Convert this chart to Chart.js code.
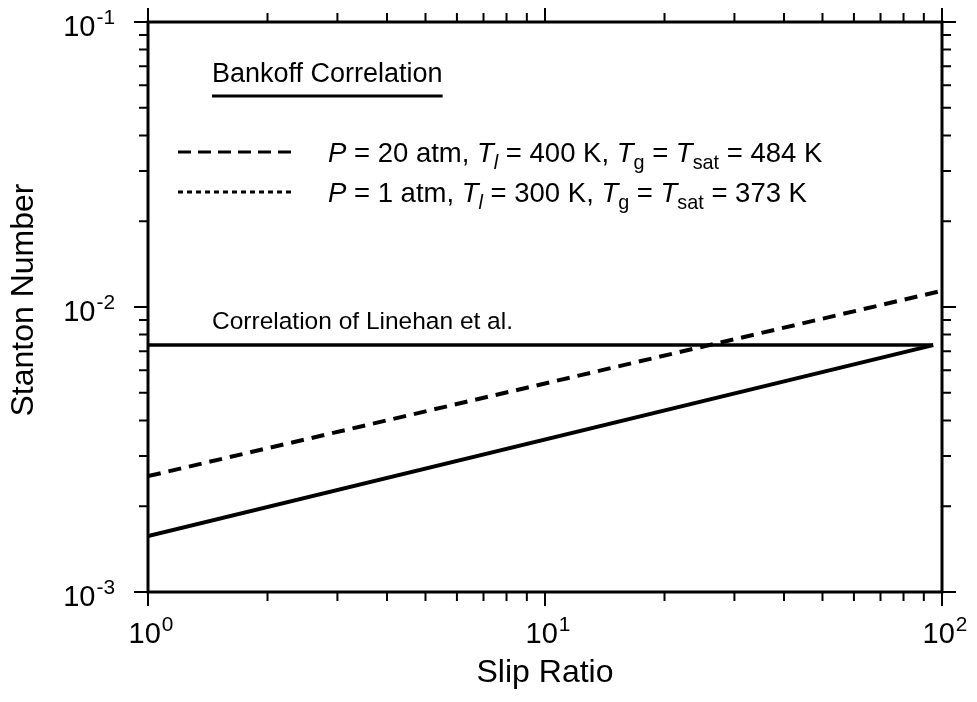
<!DOCTYPE html>
<html>
<head>
<meta charset="utf-8">
<script src="https://cdn.jsdelivr.net/npm/chart.js@4.4.1/dist/chart.umd.min.js"></script>
<style>
  html, body { margin: 0; padding: 0; background: #fff; }
</style>
</head>
<body>
<canvas id="stantonChart" width="977" height="702"></canvas>
<script>
// data block
const linehanX = [1, 95];
const linehanY = [7.35e-3, 7.35e-3];
const atm1X = [1, 95];
const atm1Y = [1.57e-3, 7.35e-3];
const atm20X = [1, 100];
const atm20Y = [2.55e-3, 1.14e-2];

const xTickValues = [1, 10, 100];
const xTickExp = ['0', '1', '2'];
const yTickValues = [1e-3, 1e-2, 1e-1];
const yTickExp = ['-3', '-2', '-1'];

const xTitle = 'Slip Ratio';
const yTitle = 'Stanton Number';
const linehanLabel = 'Correlation of Linehan et al.';
const legendTitle = 'Bankoff Correlation';
const legend20 = [
	{ t: 'P', it: true }, { t: ' = 20 atm, ' },
	{ t: 'T', it: true }, { t: 'l', it: true, sub: true }, { t: ' = 400 K, ' },
	{ t: 'T', it: true }, { t: 'g', sub: true }, { t: ' = ' },
	{ t: 'T', it: true }, { t: 'sat', sub: true }, { t: ' = 484 K' },
];
const legend1 = [
	{ t: 'P', it: true }, { t: ' = 1 atm, ' },
	{ t: 'T', it: true }, { t: 'l', it: true, sub: true }, { t: ' = 300 K, ' },
	{ t: 'T', it: true }, { t: 'g', sub: true }, { t: ' = ' },
	{ t: 'T', it: true }, { t: 'sat', sub: true }, { t: ' = 373 K' },
];

const FONT = '"Liberation Sans", Arial, Helvetica, sans-serif';

function toPoints(xs, ys) {
	return xs.map((x, i) => ({ x: x, y: ys[i] }));
}

function font(size, italic) {
	return (italic ? 'italic ' : '') + size + 'px ' + FONT;
}

// rich text: italic / subscript segments, left aligned on baseline
function drawRich(ctx, segs, x, y, size) {
	let cx = x;
	segs.forEach((s) => {
		const sz = s.sub ? size * 0.72 : size;
		ctx.font = font(sz, s.it);
		const dy = s.sub ? size * 0.25 : 0;
		ctx.fillText(s.t, cx, y + dy);
		cx += ctx.measureText(s.t).width;
	});
}

// "10" with a superscript exponent
function powerWidth(ctx, exp, size) {
	ctx.font = font(size);
	const w1 = ctx.measureText('10').width;
	ctx.font = font(size * 0.72);
	return w1 + ctx.measureText(exp).width + 1;
}
function drawPower(ctx, exp, x, y, size) {
	ctx.font = font(size);
	ctx.fillText('10', x, y);
	const w1 = ctx.measureText('10').width;
	ctx.font = font(size * 0.72);
	ctx.fillText(exp, x + w1 + 1, y - size * 0.42);
}

function minorValues(min, max) {
	const vals = [];
	for (let d = min; d < max * 0.999; d *= 10) {
		for (let k = 1; k <= 10; k++) vals.push({ v: d * k, major: k === 1 || k === 10 });
	}
	return vals;
}

const framePlugin = {
	id: 'framePlugin',
	afterDatasetsDraw(chart) {
		const ctx = chart.ctx;
		const xs = chart.scales.x;
		const ys = chart.scales.y;
		const a = chart.chartArea;
		ctx.save();
		ctx.strokeStyle = '#000';
		ctx.fillStyle = '#000';
		ctx.lineCap = 'butt';

		// frame
		ctx.lineWidth = 3;
		ctx.strokeRect(a.left, a.top, a.right - a.left, a.bottom - a.top);

		// ticks, outward on all four sides
		ctx.lineWidth = 2;
		ctx.beginPath();
		minorValues(1, 100).forEach((t) => {
			const px = xs.getPixelForValue(t.v);
			const len = t.major ? 14 : 9;
			ctx.moveTo(px, a.bottom);
			ctx.lineTo(px, a.bottom + len);
			ctx.moveTo(px, a.top);
			ctx.lineTo(px, a.top - len);
		});
		minorValues(1e-3, 1e-1).forEach((t) => {
			const py = ys.getPixelForValue(t.v);
			const len = t.major ? 14 : 9;
			ctx.moveTo(a.left, py);
			ctx.lineTo(a.left - len, py);
			ctx.moveTo(a.right, py);
			ctx.lineTo(a.right + len, py);
		});
		ctx.stroke();

		// tick labels
		ctx.textAlign = 'left';
		ctx.textBaseline = 'alphabetic';
		const tsz = 29;
		xTickValues.forEach((v, i) => {
			const px = xs.getPixelForValue(v);
			const w = powerWidth(ctx, xTickExp[i], tsz);
			drawPower(ctx, xTickExp[i], px - w / 2 + 3, a.bottom + 51, tsz);
		});
		yTickValues.forEach((v, i) => {
			const py = ys.getPixelForValue(v);
			const w = powerWidth(ctx, yTickExp[i], tsz);
			drawPower(ctx, yTickExp[i], a.left - 33 - w, py + 14, tsz);
		});

		// axis titles
		ctx.font = font(32);
		ctx.textAlign = 'center';
		ctx.fillText(xTitle, (a.left + a.right) / 2, a.bottom + 90);
		ctx.save();
		ctx.translate(33, 300);
		ctx.rotate(-Math.PI / 2);
		ctx.fillText(yTitle, 0, 0);
		ctx.restore();

		// label of the Linehan line
		ctx.textAlign = 'left';
		ctx.font = font(24.5);
		ctx.fillText(linehanLabel, 212, ys.getPixelForValue(linehanY[0]) - 16);

		// legend
		ctx.font = font(27);
		ctx.fillText(legendTitle, 212, 82);
		const tw = ctx.measureText(legendTitle).width;
		ctx.lineWidth = 3;
		ctx.beginPath();
		ctx.moveTo(212, 96);
		ctx.lineTo(212 + tw, 96);
		ctx.stroke();

		ctx.lineWidth = 3;
		ctx.setLineDash([13, 7]);
		ctx.beginPath();
		ctx.moveTo(178, 152);
		ctx.lineTo(295, 152);
		ctx.stroke();
		ctx.setLineDash([5, 4]);
		ctx.beginPath();
		ctx.moveTo(178, 192);
		ctx.lineTo(295, 192);
		ctx.stroke();
		ctx.setLineDash([]);

		drawRich(ctx, legend20, 328, 162, 27.5);
		drawRich(ctx, legend1, 328, 202, 27.5);

		ctx.restore();
	},
};

const data = {
	datasets: [
		{
			label: 'Correlation of Linehan et al.',
			data: toPoints(linehanX, linehanY),
			borderColor: '#000',
			borderWidth: 3.5,
		},
		{
			label: 'P = 1 atm',
			data: toPoints(atm1X, atm1Y),
			borderColor: '#000',
			borderWidth: 4,
		},
		{
			label: 'P = 20 atm',
			data: toPoints(atm20X, atm20Y),
			borderColor: '#000',
			borderWidth: 4,
			borderDash: [13, 8],
		},
	],
};

const config = {
	type: 'line',
	data,
	options: {
		responsive: false,
		animation: false,
		layout: { padding: { left: 148, right: 35, top: 22, bottom: 110 } },
		elements: { point: { radius: 0 }, line: { tension: 0 } },
		scales: {
			x: { type: 'logarithmic', min: 1, max: 100, display: false },
			y: { type: 'logarithmic', min: 1e-3, max: 1e-1, display: false },
		},
		plugins: {
			legend: { display: false },
			tooltip: { enabled: false },
		},
	},
	plugins: [framePlugin],
};

const myChart = new Chart(document.getElementById('stantonChart'), config);
</script>
</body>
</html>
